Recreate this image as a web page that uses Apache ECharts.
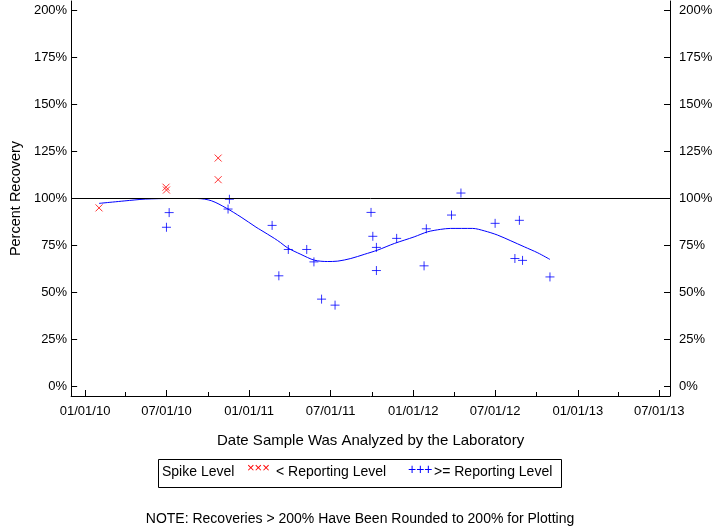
<!DOCTYPE html>
<html><head><meta charset="utf-8">
<script src="https://cdn.jsdelivr.net/npm/echarts@6/dist/echarts.min.js"></script>
<style>html,body{margin:0;padding:0;background:#fff}#c{width:720px;height:528px}</style>
</head><body><div id="c"></div>
<script>
// ---- data ----
const belowDates = ['2010-02-01','2010-06-30','2010-07-01','2010-10-24','2010-10-24'];
const belowValues = [95, 106, 104.5, 121.5, 110];

const aboveDates = ['2010-07-07','2010-07-01','2010-11-18','2010-11-15','2011-02-21','2011-03-08','2011-03-29','2011-05-09','2011-05-25','2011-06-11','2011-07-11','2011-09-29','2011-10-03','2011-10-11','2011-10-11','2011-11-25','2012-01-30','2012-01-25','2012-03-26','2012-04-16','2012-07-01','2012-08-24','2012-08-14','2012-08-31','2012-10-31'];
const aboveValues = [92.5, 84.7, 99.6, 94.4, 85.7, 58.9, 72.9, 72.9, 66.3, 46.5, 43.3, 92.6, 79.9, 74.0, 61.7, 78.8, 83.9, 64.2, 91.2, 102.9, 86.8, 88.4, 68.1, 67.1, 58.3];

const trendDates = ['2010-02-01','2010-04-20','2010-05-16','2010-07-11','2010-09-08','2010-10-09','2010-11-11','2010-12-14','2011-01-16','2011-01-27','2011-02-26','2011-03-12','2011-03-27','2011-04-26','2011-05-26','2011-06-24','2011-07-17','2011-08-15','2011-09-14','2011-10-14','2011-11-20','2012-01-03','2012-02-02','2012-03-02','2012-03-24','2012-05-12','2012-06-07','2012-07-06','2012-08-05','2012-09-04','2012-10-04','2012-10-31'];
const trendValues = [97.4, 99.2, 99.7, 100, 100, 98.8, 94.9, 90.1, 84.8, 83.2, 78.8, 76.5, 73.8, 70.3, 67.2, 66.5, 66.7, 68.1, 70.3, 72.6, 76.1, 79.6, 82.3, 83.6, 84.1, 84.1, 82.8, 80.6, 77.5, 74.3, 71.1, 67.6];

const xTickDates = ['2010-01-01','2010-07-01','2011-01-01','2011-07-01','2012-01-01','2012-07-01','2013-01-01','2013-07-01'];
const xMinorDates = ['2010-04-01','2010-10-01','2011-04-01','2011-10-01','2012-04-01','2012-10-01','2013-04-01'];
const yTicks = [0, 25, 50, 75, 100, 125, 150, 175, 200];
const xMinDate = '2009-12-01', xMaxDate = '2013-07-25';
const yMin = -5, yMax = 205;
const referenceLevel = 100;

const yTitle = 'Percent Recovery';
const xTitle = 'Date Sample Was Analyzed by the Laboratory';
const legendTitle = 'Spike Level';
const belowName = '< Reporting Level';
const aboveName = '>= Reporting Level';
const noteText = 'NOTE: Recoveries > 200% Have Been Rounded to 200% for Plotting';

// ---- build ----
const ts = s => Date.parse(s);
const pad = n => (n < 10 ? '0' : '') + n;
const fmtDate = v => { const d = new Date(v); return pad(d.getUTCMonth() + 1) + '/' + pad(d.getUTCDate()) + '/' + pad(d.getUTCFullYear() % 100); };
const FONT = "'Liberation Sans', Arial, sans-serif";
const BLUE = '#0000ff', RED = '#ff0000';

const chart = echarts.init(document.getElementById('c'), null, {renderer: 'canvas'});
const yAxisBase = {
  type: 'value', min: yMin, max: yMax,
  splitLine: {show: false},
  axisLine: {show: true, lineStyle: {color: '#000', width: 1}},
  axisTick: {show: true, inside: true, length: 6, customValues: yTicks, lineStyle: {color: '#000'}},
  axisLabel: {customValues: yTicks, formatter: v => v + '%', color: '#000', fontSize: 13, fontFamily: FONT}
};
const option = {
  animation: false,
  backgroundColor: '#fff',
  grid: {left: 70, right: 50, top: 1, bottom: 132},
  xAxis: [{
    type: 'value', min: ts(xMinDate), max: ts(xMaxDate),
    splitLine: {show: false},
    axisLine: {show: true, onZero: false, lineStyle: {color: '#000', width: 1}},
    axisTick: {show: true, inside: true, length: 6, customValues: xTickDates.map(ts), lineStyle: {color: '#000'}},
    axisLabel: {customValues: xTickDates.map(ts), formatter: v => fmtDate(v), color: '#000', fontSize: 13, fontFamily: FONT, margin: 9, hideOverlap: false},
    name: xTitle, nameLocation: 'middle', nameGap: 37,
    nameTextStyle: {color: '#000', fontSize: 15, fontFamily: FONT}
  }, {
    type: 'value', min: ts(xMinDate), max: ts(xMaxDate), position: 'bottom',
    splitLine: {show: false},
    axisLine: {show: false, onZero: false},
    axisTick: {show: true, inside: true, length: 4, customValues: xMinorDates.map(ts), lineStyle: {color: '#000'}},
    axisLabel: {show: false}
  }],
  yAxis: [
    Object.assign({}, yAxisBase, {position: 'left', axisLabel: Object.assign({}, yAxisBase.axisLabel, {margin: 4}),
      name: yTitle, nameLocation: 'middle', nameGap: 47, nameRotate: 90,
      nameTextStyle: {color: '#000', fontSize: 14.5, fontFamily: FONT}}),
    Object.assign({}, yAxisBase, {position: 'right', axisLabel: Object.assign({}, yAxisBase.axisLabel, {margin: 9})})
  ],
  series: [
    {
      name: 'trend', type: 'line', xAxisIndex: 0, yAxisIndex: 0,
      data: trendDates.map((d, i) => [ts(d), trendValues[i]]),
      showSymbol: false, smooth: 0.3, lineStyle: {color: BLUE, width: 1}, silent: true,
      markLine: {silent: true, symbol: 'none', label: {show: false}, lineStyle: {color: '#000', width: 1, type: 'solid'},
        data: [{yAxis: referenceLevel}]}
    },
    {
      name: belowName, type: 'scatter', xAxisIndex: 0, yAxisIndex: 0,
      data: belowDates.map((d, i) => [ts(d), belowValues[i]]),
      symbol: 'path://M0,0L10,10M0,10L10,0', symbolSize: 7,
      itemStyle: {color: RED, borderColor: RED, borderWidth: 1}
    },
    {
      name: aboveName, type: 'scatter', xAxisIndex: 0, yAxisIndex: 0,
      data: aboveDates.map((d, i) => [ts(d), aboveValues[i]]),
      symbol: 'path://M0,5L10,5M5,0L5,10', symbolSize: 9,
      itemStyle: {color: BLUE, borderColor: BLUE, borderWidth: 1}
    }
  ],
  graphic: [
    {type: 'rect', left: 158, top: 459, shape: {width: 403, height: 28}, style: {fill: '#fff', stroke: '#000', lineWidth: 1}, z: 10},
    {type: 'text', left: 162, top: 465, style: {text: legendTitle, fill: '#000', font: '14px ' + FONT}, z: 11},
    {type: 'text', left: 247, top: 462, style: {text: '×××', fill: RED, font: '13px ' + FONT}, z: 11},
    {type: 'text', left: 276, top: 465, style: {text: belowName, fill: '#000', font: '14px ' + FONT}, z: 11},
    {type: 'text', left: 408, top: 463, style: {text: '+++', fill: BLUE, font: '14px ' + FONT}, z: 11},
    {type: 'text', left: 434, top: 465, style: {text: aboveName, fill: '#000', font: '14px ' + FONT}, z: 11},
    {type: 'text', left: 'center', top: 512, style: {text: noteText, fill: '#000', font: '14px ' + FONT}, z: 11}
  ]
};
chart.setOption(option);
</script>
</body></html>
